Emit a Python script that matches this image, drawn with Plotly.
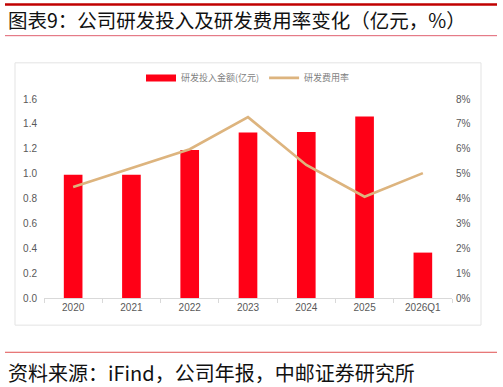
import plotly.graph_objects as go

categories = ["2020", "2021", "2022", "2023", "2024", "2025", "2026Q1"]
rd_investment = [0.99, 0.99, 1.19, 1.33, 1.335, 1.46, 0.365]
rd_rate = [0.0446, 0.0522, 0.0598, 0.0727, 0.0535, 0.0407, 0.0502]
left_ticks = [0, 0.2, 0.4, 0.6, 0.8, 1.0, 1.2, 1.4, 1.6]
right_ticks = [0, 0.01, 0.02, 0.03, 0.04, 0.05, 0.06, 0.07, 0.08]

W, H = 503, 387
L, R, T, B = 44, 51, 99, 89

tick_font = dict(family="Liberation Sans, Arial", size=10, color="#595959")
BAR_COLOR = "#FF0016"

fig = go.Figure()
fig.add_trace(go.Bar(
    x=categories, y=rd_investment, name="研发投入金额(亿元)",
    marker=dict(color=BAR_COLOR, line=dict(width=0)), width=0.32, yaxis="y",
    showlegend=False,
))
# legend proxy for the bar series (wide rectangle swatch)
fig.add_trace(go.Scatter(
    x=[None], y=[None], name="研发投入金额(亿元)", mode="lines",
    line=dict(color=BAR_COLOR, width=7), yaxis="y", showlegend=True,
))
fig.add_trace(go.Scatter(
    x=categories, y=rd_rate, name="研发费用率", mode="lines",
    line=dict(color="#DDB47E", width=2.6), yaxis="y2",
))

fig.update_layout(
    width=W, height=H,
    margin=dict(l=L, r=R, t=T, b=B),
    paper_bgcolor="white", plot_bgcolor="white",
    showlegend=True,
    legend=dict(orientation="h", x=0.5, xanchor="center", y=1.0 + (99 - 78) / 198.0,
                yanchor="middle", font=dict(family="Noto Sans CJK SC", size=9, color="#7F7F7F"),
                bgcolor="rgba(0,0,0,0)", itemwidth=30, tracegroupgap=0),
    xaxis=dict(type="category", showgrid=False, showline=True, linecolor="#D9D9D9", linewidth=1,
               ticks="outside", tickson="boundaries", ticklen=4, tickcolor="#D9D9D9",
               tickfont=tick_font, fixedrange=True),
    yaxis=dict(range=[0, 1.6], tickvals=left_ticks, tickformat=".1f", showgrid=False,
               zeroline=False, showline=False, tickfont=tick_font, ticks="", ticklabelstandoff=6),
    yaxis2=dict(range=[0, 0.08], tickvals=right_ticks, tickformat=".0%", overlaying="y",
                side="right", showgrid=False, zeroline=False, showline=False,
                tickfont=tick_font, ticklabelstandoff=3),
    bargap=0.68,
)

shapes = [
    dict(type="line", xref="paper", yref="paper", x0=(5 - L) / 408, x1=(497 - L) / 408,
         y0=1 + (T - 5) / 198, y1=1 + (T - 5) / 198, line=dict(color="#C00000", width=2.5)),
    dict(type="line", xref="paper", yref="paper", x0=(5 - L) / 408, x1=(497 - L) / 408,
         y0=1 + (T - 36) / 198, y1=1 + (T - 36) / 198, line=dict(color="#E06070", width=1)),
    dict(type="rect", xref="paper", yref="paper", x0=(15 - L) / 408, x1=(481 - L) / 408,
         y0=-(325 - 298) / 198, y1=1 + (T - 63) / 198, line=dict(color="#E3E3E3", width=1)),
    dict(type="line", xref="paper", yref="paper", x0=(5 - L) / 408, x1=(497 - L) / 408,
         y0=-(352 - 298) / 198, y1=-(352 - 298) / 198, line=dict(color="#E05050", width=1)),
]
fig.update_layout(shapes=shapes)

fig.add_annotation(text="图表9：公司研发投入及研发费用率变化（亿元，%）", xref="paper", yref="paper",
                   x=(6 - L) / 408, y=1 + (T - 20) / 198, xanchor="left", yanchor="middle",
                   showarrow=False, font=dict(family="Noto Sans CJK SC", size=19.5, color="#111111"))
fig.add_annotation(text="资料来源：iFind，公司年报，中邮证券研究所", xref="paper", yref="paper",
                   x=(6 - L) / 408, y=-(372 - 298) / 198, xanchor="left", yanchor="middle",
                   showarrow=False, font=dict(family="Noto Sans CJK SC", size=20, color="#111111"))

fig.write_html("out.html")
